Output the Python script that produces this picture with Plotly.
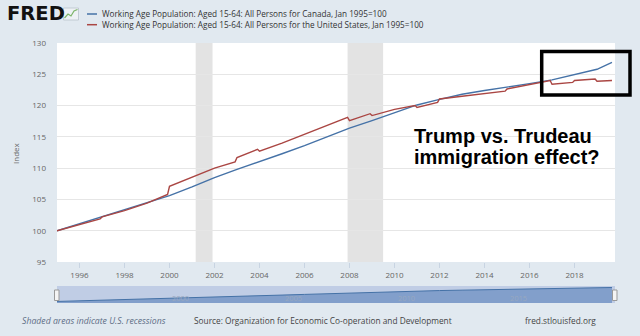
import plotly.graph_objects as go

# ---- data ----------------------------------------------------------------
canada_dates = [
    "1995-01-01", "1996-01-01", "1997-01-01", "1998-01-01", "1999-01-01",
    "2000-01-01", "2001-01-01", "2002-01-01", "2003-01-01", "2004-01-01",
    "2005-01-01", "2006-01-01", "2007-01-01", "2008-01-01", "2009-01-01",
    "2010-01-01", "2011-01-01", "2012-01-01", "2013-01-01", "2014-01-01",
    "2015-01-01", "2016-01-01", "2017-01-01", "2018-01-01", "2019-01-01",
    "2019-09-01",
]
canada_values = [
    100.0, 101.1, 102.2, 103.3, 104.4,
    105.6, 107.0, 108.5, 109.8, 111.0,
    112.3, 113.6, 115.0, 116.4, 117.6,
    118.9, 120.1, 121.0, 121.8, 122.4,
    122.9, 123.5, 124.1, 125.0, 125.8,
    126.9,
]

us_dates = [
    "1995-01-01", "1996-12-01", "1997-01-01", "1998-01-01", "1999-01-01",
    "1999-12-01", "2000-01-01", "2001-01-01", "2002-01-01", "2002-12-01",
    "2003-01-01", "2003-12-01", "2004-01-01", "2005-01-01", "2006-01-01",
    "2007-01-01", "2007-12-01", "2008-01-01", "2008-12-01", "2009-01-01",
    "2010-01-01", "2010-12-01", "2011-01-01", "2011-12-01", "2012-01-01",
    "2013-01-01", "2014-01-01", "2014-12-01", "2015-01-01", "2016-01-01",
    "2016-12-01", "2017-01-01", "2017-12-01", "2018-01-01", "2018-12-01",
    "2019-01-01", "2019-09-01",
]
us_values = [
    100.0, 101.9, 102.2, 103.2, 104.4,
    105.8, 107.1, 108.6, 110.0, 111.0,
    111.7, 113.0, 112.7, 114.0, 115.4,
    116.8, 118.1, 117.6, 118.7, 118.4,
    119.4, 120.0, 119.7, 120.5, 121.05,
    121.5, 121.95, 122.3, 122.65, 123.3,
    124.0, 123.4, 123.7, 124.0, 124.25,
    123.9, 124.0,
]

recession_starts = ["2001-03-01", "2007-12-01"]
recession_ends = ["2001-11-30", "2009-06-30"]

navigator_years = ["2000", "2005", "2010", "2015"]

canada_name = "Working Age Population: Aged 15-64: All Persons for Canada, Jan 1995=100"
us_name = "Working Age Population: Aged 15-64: All Persons for the United States, Jan 1995=100"

# ---- geometry helpers (pixel -> paper) -----------------------------------
W, H = 640, 336
ML, MR, MT, MB = 57, 25, 43, 33
PW = W - ML - MR
PH = H - MT - MB


def px(x):
    return (x - ML) / PW


def py(y):
    return (H - MB - y) / PH


BLUE = "#4572A7"
RED = "#AA4643"
BG = "#E1E9F0"
FONT = "Open Sans"

fig = go.Figure()

fig.add_trace(go.Scatter(x=canada_dates, y=canada_values, mode="lines",
                         line=dict(color=BLUE, width=1.4), name=canada_name,
                         xaxis="x", yaxis="y"))
fig.add_trace(go.Scatter(x=us_dates, y=us_values, mode="lines",
                         line=dict(color=RED, width=1.4), name=us_name,
                         xaxis="x", yaxis="y"))

# navigator series
fig.add_trace(go.Scatter(x=canada_dates, y=canada_values, mode="lines",
                         fill="tozeroy", fillcolor="#829FCB",
                         line=dict(color=BLUE, width=1), xaxis="x2", yaxis="y2",
                         showlegend=False, hoverinfo="skip"))

x_range = ["1995-01-01", "2019-10-20"]
main_bottom = py(262)
nav_top = py(286)

shapes = []
for s, e in zip(recession_starts, recession_ends):
    shapes.append(dict(type="rect", xref="x", yref="y domain", x0=s, x1=e,
                       y0=0, y1=1, fillcolor="#E3E3E3", line=dict(width=0),
                       layer="below"))

# navigator background
shapes.append(dict(type="rect", xref="x2 domain", yref="y2 domain", x0=0, x1=1,
                   y0=0, y1=1, fillcolor="#C0CDE5", line=dict(width=0),
                   layer="below"))
# navigator handles
for hx in (54.5, 612.5):
    shapes.append(dict(type="rect", xref="paper", yref="paper",
                       x0=px(hx), x1=px(hx + 4.5), y0=py(300.5), y1=py(290),
                       fillcolor="#F4F4F4", line=dict(color="#999999", width=1)))

# highlight box
shapes.append(dict(type="rect", xref="paper", yref="y",
                   x0=px(541.7), x1=px(630), y0=121.7, y1=128.65,
                   line=dict(color="black", width=3.5), fillcolor="rgba(0,0,0,0)"))

# legend line samples
for yy, col in ((14, BLUE), (24.7, RED)):
    shapes.append(dict(type="line", xref="paper", yref="paper",
                       x0=px(87), x1=px(97), y0=py(yy), y1=py(yy),
                       line=dict(color=col, width=1.5)))

# small logo icon
shapes.append(dict(type="rect", xref="paper", yref="paper",
                   x0=px(63.5), x1=px(78.5), y0=py(20), y1=py(8),
                   fillcolor="#EEF2F5", line=dict(color="#B9C3CC", width=0.8)))
shapes.append(dict(type="path", xref="paper", yref="paper",
                   path=(f"M {px(64.5)} {py(18)} L {px(68)} {py(14)} L {px(71)} {py(16)} "
                         f"L {px(74)} {py(11)} L {px(77.5)} {py(9.5)}"),
                   line=dict(color="#7DB56A", width=1.2)))

annotations = []
# FRED wordmark
annotations.append(dict(text="<b>FRED</b>", xref="paper", yref="paper",
                        x=px(5), y=py(13.8), xanchor="left", yanchor="middle",
                        showarrow=False,
                        font=dict(family="DejaVu Sans", size=19.5, color="#111111")))
# legend texts
for yy, name in ((14, canada_name), (24.7, us_name)):
    annotations.append(dict(text=name, xref="paper", yref="paper",
                            x=px(99.5), y=py(yy), xanchor="left", yanchor="middle",
                            showarrow=False,
                            font=dict(family=FONT, size=8.2, color="#333333")))
# y axis title
annotations.append(dict(text="Index", xref="paper", yref="paper",
                        x=px(15), y=py(153), textangle=-90, xanchor="center",
                        yanchor="middle", showarrow=False,
                        font=dict(family=FONT, size=8, color="#666666")))
# commentary
annotations.append(dict(text="<b>Trump vs. Trudeau</b>", xref="paper", yref="paper",
                        x=px(412), y=py(135.5), xanchor="left", yanchor="middle",
                        showarrow=False,
                        font=dict(family="Liberation Sans", size=20, color="black")))
annotations.append(dict(text="<b>immigration effect?</b>", xref="paper", yref="paper",
                        x=px(412), y=py(157), xanchor="left", yanchor="middle",
                        showarrow=False,
                        font=dict(family="Liberation Sans", size=20, color="black")))
# navigator year labels
for yr in navigator_years:
    annotations.append(dict(text=yr, xref="x2", yref="paper", x=f"{yr}-01-01",
                            y=py(297.5), xanchor="left", yanchor="middle",
                            xshift=1, showarrow=False,
                            font=dict(family=FONT, size=7.5, color="#98A8C0")))
# footer
annotations.append(dict(text="<i>Shaded areas indicate U.S. recessions</i>",
                        xref="paper", yref="paper", x=px(20), y=py(320.7),
                        xanchor="left", yanchor="middle", showarrow=False,
                        font=dict(family=FONT, size=8.7, color="#5E6E86")))
annotations.append(dict(text="Source: Organization for Economic Co-operation and Development",
                        xref="paper", yref="paper", x=px(191.5), y=py(320.7),
                        xanchor="left", yanchor="middle", showarrow=False,
                        font=dict(family=FONT, size=8.3, color="#444444")))
annotations.append(dict(text="fred.stlouisfed.org",
                        xref="paper", yref="paper", x=px(523), y=py(320.7),
                        xanchor="left", yanchor="middle", showarrow=False,
                        font=dict(family=FONT, size=8.3, color="#444444")))

fig.update_layout(
    width=W, height=H,
    margin=dict(l=ML, r=MR, t=MT, b=MB, pad=0),
    paper_bgcolor=BG, plot_bgcolor="white",
    showlegend=False,
    font=dict(family=FONT, size=8, color="#666666"),
    xaxis=dict(domain=[0, 1], range=x_range, type="date", anchor="y",
               tick0="1996-01-01", dtick="M24", tickformat="%Y",
               ticks="outside", ticklen=5, tickcolor="#C8D4E2", tickwidth=1,
               showgrid=False, zeroline=False, showline=False,
               tickfont=dict(family=FONT, size=8, color="#666666")),
    yaxis=dict(domain=[main_bottom, 1], range=[95, 130], anchor="x",
               tickvals=[95, 100, 105, 110, 115, 120, 125, 130],
               showgrid=True, gridcolor="#E6E6E6", gridwidth=1,
               zeroline=False, showline=False, ticks="",
               ticklabelstandoff=10,
               tickfont=dict(family=FONT, size=8, color="#666666")),
    xaxis2=dict(domain=[0, 1], range=x_range, type="date", anchor="y2",
                showticklabels=False, showgrid=False, zeroline=False,
                showline=False, ticks=""),
    yaxis2=dict(domain=[0, nav_top], range=[97, 129.8], anchor="x2",
                showticklabels=False, showgrid=False, zeroline=False,
                showline=False, ticks=""),
    shapes=shapes,
    annotations=annotations,
)

fig.write_html("out.html")
